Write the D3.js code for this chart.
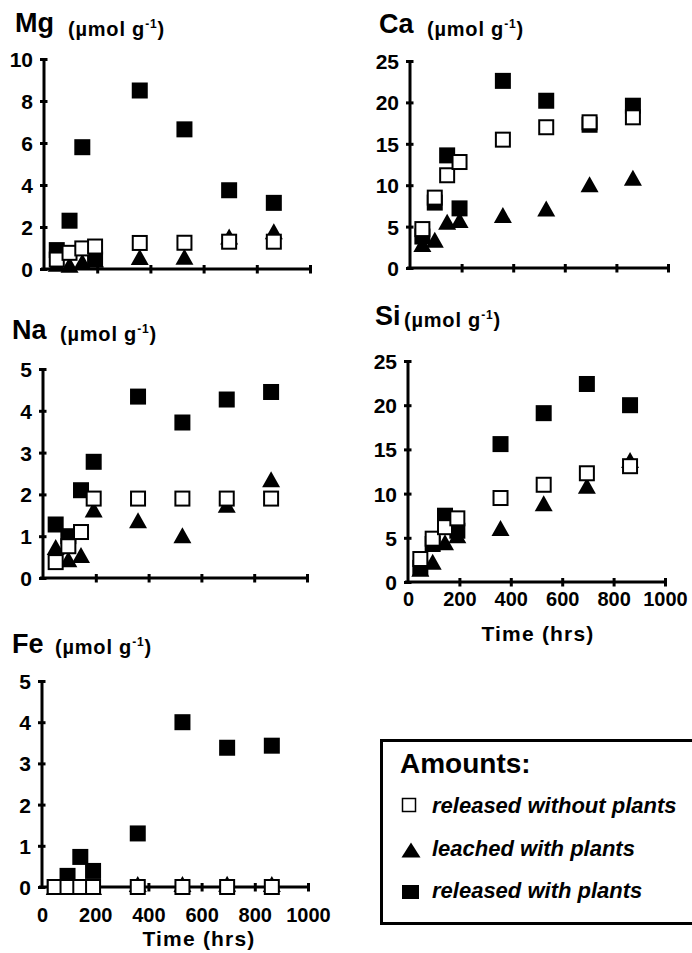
<!DOCTYPE html>
<html>
<head>
<meta charset="utf-8">
<script src="https://cdn.jsdelivr.net/npm/d3@7"></script>
<style>
  html, body { margin: 0; padding: 0; background: #fff; }
  svg { display: block; }
  text { font-family: "Liberation Sans", Arial, Helvetica, sans-serif; font-weight: bold; fill: #000; }
</style>
</head>
<body>
<svg id="chart" width="692" height="953"></svg>
<script>
// ---------------- DATA ----------------
const times = [48, 96, 144, 192, 360, 528, 696, 864];
const xTicks = [0, 200, 400, 600, 800, 1000];

const seriesNames = ["released without plants", "leached with plants", "released with plants"];

const mgWithout = [0.45, 0.77, 0.98, 1.07, 1.24, 1.25, 1.3, 1.3];
const mgLeached = [0.25, 0.2, 0.35, 0.45, 0.57, 0.58, 1.55, 1.8];
const mgWith    = [0.9, 2.3, 5.8, 0.45, 8.5, 6.65, 3.75, 3.15];
const mgTicks   = [0, 2, 4, 6, 8, 10];

const caWithout = [4.7, 8.5, 11.2, 12.8, 15.5, 17.0, 17.6, 18.2];
const caLeached = [2.9, 3.4, 5.6, 5.8, 6.4, 7.2, 10.1, 10.9];
const caWith    = [3.8, 7.9, 13.6, 7.2, 22.6, 20.2, 17.3, 19.6];
const caTicks   = [0, 5, 10, 15, 20, 25];

const naWithout = [0.38, 0.76, 1.1, 1.9, 1.9, 1.9, 1.9, 1.9];
const naLeached = [0.74, 0.45, 0.55, 1.64, 1.38, 1.02, 1.75, 2.36];
const naWith    = [1.28, 1.0, 2.1, 2.78, 4.34, 3.72, 4.27, 4.45];
const naTicks   = [0, 1, 2, 3, 4, 5];

const siWithout = [2.6, 4.9, 6.2, 7.2, 9.5, 11.0, 12.3, 13.1];
const siLeached = [1.5, 2.3, 4.5, 5.3, 6.1, 8.9, 10.9, 13.8];
const siWith    = [1.6, 4.3, 7.5, 5.8, 15.6, 19.1, 22.4, 20.0];
const siTicks   = [0, 5, 10, 15, 20, 25];

const feWithout = [0, 0, 0, 0, 0, 0, 0, 0];
const feLeached = [0, 0, 0, 0, 0.07, 0.07, 0.08, 0.07];
const feWith    = [0, 0.27, 0.73, 0.39, 1.3, 4.0, 3.38, 3.43];
const feTicks   = [0, 1, 2, 3, 4, 5];

const xLabel = "Time (hrs)";
const unitMain = "(µmol g";
const unitSup = "-1";

// ---------------- LAYOUT ----------------
const svg = d3.select("#chart");

const panels = [
  { sym: "Mg", without: mgWithout, leached: mgLeached, withP: mgWith, ticks: mgTicks,
    px0: 44, px1: 310, py0: 269, py1: 59,
    title: { x: 15, y: 32, ux: 68, uy: 36 }, xlab: null },
  { sym: "Ca", without: caWithout, leached: caLeached, withP: caWith, ticks: caTicks,
    px0: 410, px1: 668, py0: 268, py1: 61,
    title: { x: 379, y: 33, ux: 427, uy: 36 }, xlab: null },
  { sym: "Na", without: naWithout, leached: naLeached, withP: naWith, ticks: naTicks,
    px0: 43, px1: 307, py0: 578, py1: 369,
    title: { x: 12, y: 339, ux: 60, uy: 341 }, xlab: null },
  { sym: "Si", without: siWithout, leached: siLeached, withP: siWith, ticks: siTicks,
    px0: 408, px1: 665, py0: 582, py1: 361,
    title: { x: 375, y: 325, ux: 404, uy: 327 }, xlab: { tickY: 606, titleX: 538, titleY: 641 } },
  { sym: "Fe", without: feWithout, leached: feLeached, withP: feWith, ticks: feTicks,
    px0: 42, px1: 308, py0: 887, py1: 681,
    title: { x: 12, y: 653, ux: 55, uy: 654 }, xlab: { tickY: 922, titleX: 199, titleY: 946 } }
];

const SQ = 16;     // square marker size
const TW = 18, TH = 16; // triangle width/height

function triPath(w, h) {
  return `M0,${-h/2}L${w/2},${h/2}L${-w/2},${h/2}Z`;
}

panels.forEach(p => {
  const x = d3.scaleLinear().domain([0, 1000]).range([p.px0, p.px1]);
  const yMax = p.ticks[p.ticks.length - 1];
  const y = d3.scaleLinear().domain([0, yMax]).range([p.py0, p.py1]);
  const g = svg.append("g");

  // Title
  g.append("text").attr("x", p.title.x).attr("y", p.title.y)
    .style("font-size", "27px").text(p.sym);
  const u = g.append("text").attr("x", p.title.ux).attr("y", p.title.uy)
    .style("font-size", "20px").style("letter-spacing", "0.8px");
  u.append("tspan").text(unitMain);
  u.append("tspan").attr("dy", -8).style("font-size", "12px").text(unitSup);
  u.append("tspan").attr("dy", 8).text(")");

  // Y axis
  const yAxis = d3.axisLeft(y).tickValues(p.ticks).tickSizeOuter(0).tickSizeInner(4).tickPadding(7)
    .tickFormat(d3.format("d"));
  const ya = g.append("g").attr("transform", `translate(${p.px0},0)`).call(yAxis);
  ya.select(".domain").attr("stroke", "#000").attr("stroke-width", 3)
    .attr("d", `M0,${p.py0 + 1.5}V${p.py1}`);
  ya.selectAll(".tick line").attr("x1", -4).attr("x2", 3.5).attr("stroke", "#000").attr("stroke-width", 3);
  ya.selectAll(".tick text").style("font-size", "21px")
    .style("font-family", '"Liberation Sans", Arial, sans-serif').style("font-weight", "bold")
    .attr("fill", "#000").attr("dy", "0.36em");

  // X axis
  const xAxis = d3.axisBottom(x).tickValues(xTicks).tickSizeOuter(0).tickSizeInner(4)
    .tickFormat(p.xlab ? d3.format("d") : "");
  const xa = g.append("g").attr("transform", `translate(0,${p.py0})`).call(xAxis);
  xa.select(".domain").attr("stroke", "#000").attr("stroke-width", 3)
    .attr("d", `M${p.px0 - 3},0H${p.px1}`);
  xa.selectAll(".tick line").attr("y1", -4).attr("y2", 4.5).attr("stroke", "#000").attr("stroke-width", 3)
    .filter(d => d === 0).remove();
  if (p.xlab) {
    xa.selectAll(".tick text").style("font-size", "20px")
      .style("font-family", '"Liberation Sans", Arial, sans-serif').style("font-weight", "bold")
      .attr("fill", "#000").attr("dy", null).attr("y", p.xlab.tickY - p.py0);
    g.append("text").attr("x", p.xlab.titleX).attr("y", p.xlab.titleY)
      .attr("text-anchor", "middle").style("font-size", "21px").style("letter-spacing", "1.2px")
      .text(xLabel);
  }

  // Markers: filled squares (bottom), triangles, open squares (top)
  const zip = arr => times.map((tm, i) => ({ t: tm, v: arr[i] }));

  g.append("g").selectAll("rect").data(zip(p.withP)).join("rect")
    .attr("x", d => x(d.t) - SQ / 2).attr("y", d => y(d.v) - SQ / 2)
    .attr("width", SQ).attr("height", SQ).attr("fill", "#000");

  g.append("g").selectAll("path").data(zip(p.leached)).join("path")
    .attr("transform", d => `translate(${x(d.t)},${y(d.v)})`)
    .attr("d", triPath(TW, TH)).attr("fill", "#000");

  g.append("g").selectAll("rect").data(zip(p.without)).join("rect")
    .attr("x", d => x(d.t) - (SQ - 2) / 2).attr("y", d => y(d.v) - (SQ - 2) / 2)
    .attr("width", SQ - 2).attr("height", SQ - 2)
    .attr("fill", "#fff").attr("stroke", "#000").attr("stroke-width", 2);
});

// ---------------- LEGEND ----------------
const lg = svg.append("g");
lg.append("rect").attr("x", 381.5).attr("y", 740.5).attr("width", 330).attr("height", 183)
  .attr("fill", "#fff").attr("stroke", "#000").attr("stroke-width", 3);
lg.append("text").attr("x", 400).attr("y", 773).style("font-size", "28px").text("Amounts:");

const legendY = [813, 856, 898];
const legendSymY = [805, 850, 892];
// open square
lg.append("rect").attr("x", 402.5).attr("y", legendSymY[0] - 6.5).attr("width", 13).attr("height", 13)
  .attr("fill", "#fff").attr("stroke", "#000").attr("stroke-width", 1.5);
// triangle
lg.append("path").attr("transform", `translate(411,${legendSymY[1]})`).attr("d", triPath(19, 15)).attr("fill", "#000");
// filled square
lg.append("rect").attr("x", 402).attr("y", legendSymY[2] - 7).attr("width", 17).attr("height", 14).attr("fill", "#000");

seriesNames.forEach((nm, i) => {
  lg.append("text").attr("x", 432).attr("y", legendY[i])
    .style("font-size", "22px").style("font-style", "italic").text(nm);
});
</script>
</body>
</html>
